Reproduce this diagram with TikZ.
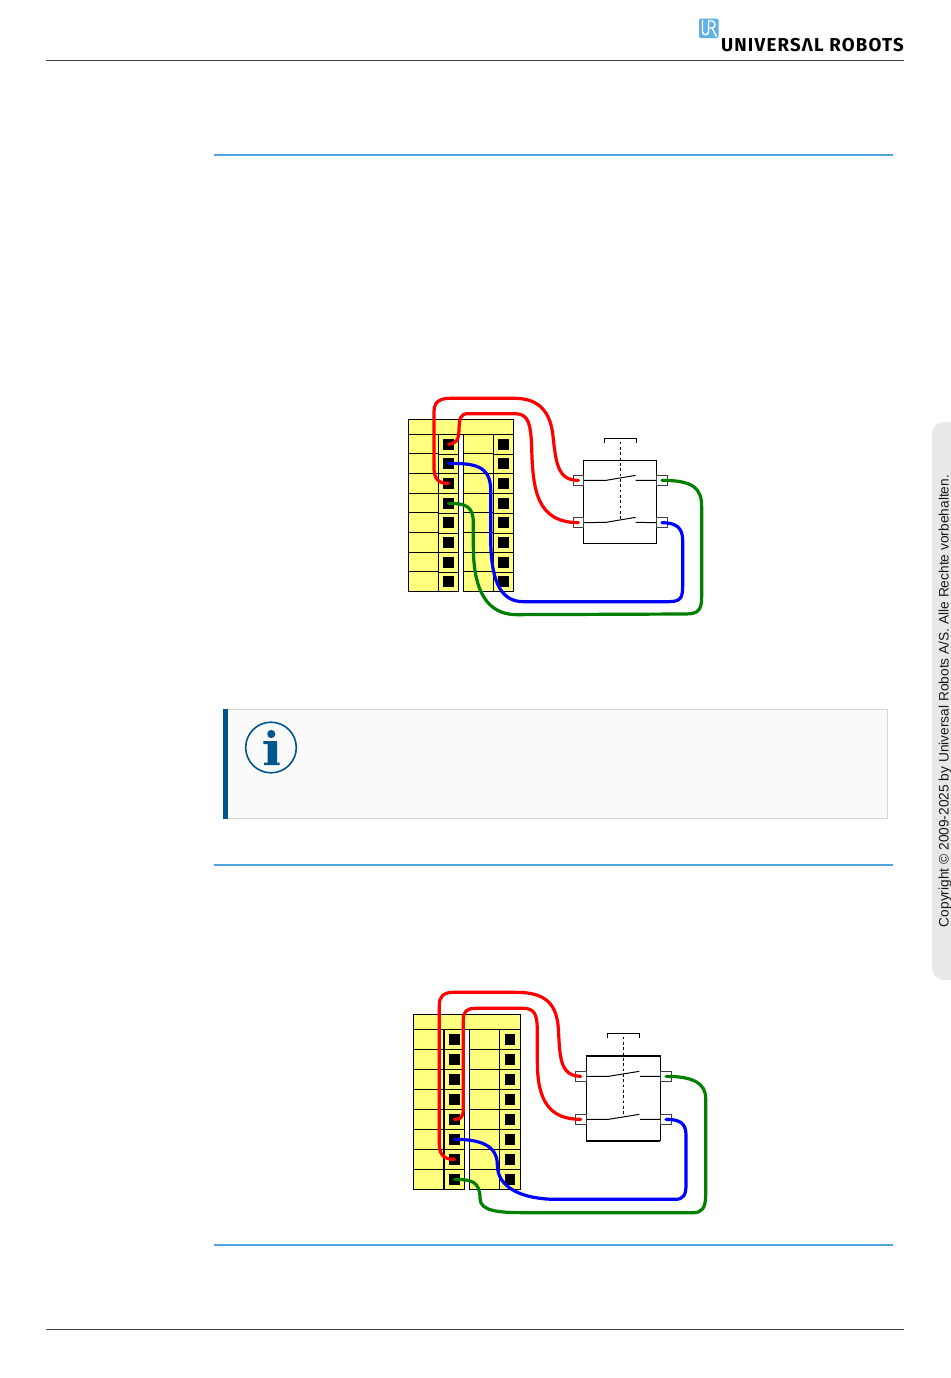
\documentclass[tikz,border=0pt]{standalone}
\usepackage{fontspec}
\setmainfont{Liberation Sans}
\newfontfamily\logofont[LetterSpace=6.5]{Fira Sans}
\definecolor{urblue}{HTML}{4FA6DE}
\definecolor{logoblue}{HTML}{5FB0E6}
\definecolor{navy}{HTML}{00558C}
\definecolor{termyellow}{HTML}{FFFF7F}
\definecolor{wgreen}{HTML}{007F00}
\tikzset{
  hairline/.style={draw=black!75,line width=.6pt},
  sectionrule/.style={draw=urblue,line width=.9pt},
  thin1/.style={draw=black,line width=.75pt},
  termsq/.style={fill=black,draw=none,minimum size=8.2pt,inner sep=0pt,outer sep=0pt},
  tabbox/.style={draw=black!75,line width=.6pt,fill=white,minimum width=8pt,minimum height=7.6pt,inner sep=0pt},
  wirered/.style={draw=red,line width=2.4pt,line cap=round,line join=round},
  wireblue/.style={draw=blue,line width=2.4pt,line cap=round,line join=round},
  wiregreen/.style={draw=wgreen,line width=2.4pt,line cap=round,line join=round},
  yellowblock/.style={fill=termyellow,draw=none},
}
\begin{document}
\begin{tikzpicture}[x=.75pt,y=-.75pt]
\useasboundingbox (0,0) rectangle (950,1378);
\fill[white] (0,0) rectangle (950,1378);
% header / footer
\draw[hairline] (46,60.5) -- (904,60.5);
\draw[hairline] (46,1329.5) -- (904,1329.5);
% logo
\fill[logoblue,rounded corners=1pt] (699,18.5) rectangle (718.5,38);
\draw[white,line width=1.1pt] (702.5,20) -- (702.5,32) .. controls (702.5,35.5) and (708.5,35.5) .. (708.5,32) -- (708.5,20);
\draw[white,line width=1.1pt] (708.5,21) -- (712,21) .. controls (716,21) and (716,28) .. (712,28) -- (709,28) (712,28) -- (716.5,36.5);
\node[anchor=base east,inner sep=0pt,font=\fontsize{14pt}{15pt}\logofont\bfseries] (logotext) at (904,51.7) {UNIVERSΛL ROBOTS};
% section rules
\draw[sectionrule] (214,155) -- (893,155);
\draw[sectionrule] (214,865) -- (893,865);
\draw[sectionrule] (214,1245) -- (893,1245);
% side tab
\fill[black!9,rounded corners=9pt] (932,422) rectangle (960,980);
\node[rotate=90,inner sep=0pt,font=\fontsize{10.3pt}{12pt}\selectfont,text=black!90] (copyright) at (945,701) {Copyright © 2009-2025 by Universal Robots A/S. Alle Rechte vorbehalten.};
% note box
\draw[fill=black!2,draw=black!17,line width=.8pt] (223.5,709.5) rectangle (887.5,818.5);
\fill[navy] (223,709) rectangle (228,819);
\draw[navy,line width=1.2pt] (271,747.5) circle[radius=25.3];
\fill[navy] (271.3,734) circle[radius=4.1];
\fill[navy] (263.3,741) -- (277,741) -- (277,762.5) -- (279.5,762.5) -- (279.5,765) -- (264,765) -- (264,762.5) -- (267.5,762.5) -- (267.5,744) -- (263.3,744) -- cycle;

% ===== first diagram =====
\begin{scope}[shift={(400,390)},x=.25pt,y=-.25pt]
\fill[yellowblock] (25,88) -- (340,88) -- (340,604) -- (190,604) -- (190,133) -- (175,133) -- (175,604) -- (25,604) -- cycle;
\draw[thin1] (175,133) -- (175,604) -- (25,604) -- (25,88) -- (340,88) -- (340,604) -- (190,604) -- (190,133);
\draw[thin1] (25,133) -- (340,133);
\draw[thin1] (115,133) -- (115,604) (280,133) -- (280,604);
\foreach \yy in {190,250,310,367,427,487,545} {
  \draw[thin1] (25,\yy) -- (115,\yy) (190,\yy) -- (280,\yy);
}
\foreach \yy in {193,250,310,370,430,487,547} {
  \draw[thin1] (115,\yy) -- (175,\yy) (280,\yy) -- (340,\yy);
}
\foreach \n/\yy in {1/163,2/220,3/280,4/340,5/397,6/457,7/517,8/575} {
  \node[termsq] (a\n) at (145.5,\yy) {};
  \node[termsq] (b\n) at (310.5,\yy) {};
}
% switch
\node[draw=black,line width=.75pt,fill=white,minimum width=54.75pt,minimum height=62.25pt,inner sep=0pt] (sw1) at (659.5,335.5) {};
\node[tabbox] (tl1a) at (535,271) {};
\node[tabbox] (tl1b) at (535,398) {};
\node[tabbox] (tr1a) at (786,271) {};
\node[tabbox] (tr1b) at (786,398) {};
\draw[thin1] (tl1a.east) -- (618,271) -- (707,256) (707,271) -- (tr1a.west);
\draw[thin1] (tl1b.east) -- (618,397) -- (707,382) (707,397) -- (tr1b.west);
\draw[thin1] (613,160) -- (613,145) -- (709,145) -- (709,160);
\draw[draw=black,line width=.75pt,dash pattern=on 2pt off 2pt] (661,155) -- (661,390);
% wires
\draw[wirered] (a3.center) .. controls (120,281) and (102,270) .. (102,235) -- (102,65) .. controls (102,35) and (120,25) .. (150,25) -- (345,25) .. controls (420,25) and (450,70) .. (458,130) .. controls (468,215) and (470,271) .. (tl1a.center);
\draw[wirered] (a1.center) .. controls (170,160) and (176,150) .. (177,120) .. controls (178,85) and (180,71) .. (205,71) -- (345,71) .. controls (385,71) and (392,100) .. (395,170) .. controls (398,300) and (410,397) .. (tl1b.center);
\draw[wireblue] (a2.center) .. controls (220,220) and (272,225) .. (272,300) -- (272,440) .. controls (272,560) and (295,635) .. (370,635) -- (805,635) .. controls (840,635) and (848,625) .. (848,590) -- (848,450) .. controls (848,415) and (830,398) .. (tr1b.center);
\draw[wiregreen] (a4.center) .. controls (200,340) and (220,350) .. (220,400) -- (220,470) .. controls (220,600) and (260,674) .. (350,674) -- (855,672) .. controls (895,672) and (905,660) .. (905,620) -- (905,350) .. controls (905,295) and (880,271) .. (tr1a.center);
\end{scope}

% ===== second diagram =====
\begin{scope}[shift={(400,985)},x=.25pt,y=-.25pt]
\fill[yellowblock] (40,88) -- (361,88) -- (361,613) -- (208,613) -- (208,133) -- (193,133) -- (193,613) -- (40,613) -- cycle;
\draw[thin1] (193,133) -- (193,613) -- (40,613) -- (40,88) -- (361,88) -- (361,613) -- (208,613) -- (208,133);
\draw[thin1] (40,133) -- (361,133);
\draw[draw=black,line width=1.1pt] (132,133) -- (132,613);
\draw[thin1] (298,133) -- (298,613);
\foreach \yy in {193,253,313,373,433,493,553} {
  \draw[thin1] (40,\yy) -- (193,\yy) (208,\yy) -- (361,\yy);
}
\foreach \n/\yy in {1/163,2/223,3/283,4/343,5/403,6/463,7/523,8/583} {
  \node[termsq] (c\n) at (163.5,\yy) {};
  \node[termsq] (d\n) at (330,\yy) {};
}
\node[draw=black,line width=.75pt,fill=white,minimum width=55.5pt,minimum height=63.75pt,inner sep=0pt] (sw2) at (670,339.5) {};
\draw[draw=black,line width=1.4pt] (559,212) -- (781,212) (559,467) -- (781,467);
\node[tabbox] (tl2a) at (542,274) {};
\node[tabbox] (tl2b) at (542,403) {};
\node[tabbox] (tr2a) at (798,274) {};
\node[tabbox] (tr2b) at (798,403) {};
\draw[thin1] (tl2a.east) -- (625,274) -- (718,259) (720,274) -- (tr2a.west);
\draw[thin1] (tl2b.east) -- (625,403) -- (718,388) (720,403) -- (tr2b.west);
\draw[thin1] (622,160) -- (622,145) -- (718,145) -- (718,160);
\draw[draw=black,line width=.75pt,dash pattern=on 2pt off 2pt] (670,155) -- (670,395);
\draw[wirered] (c7.center) .. controls (135,524) and (118,510) .. (118,480) -- (118,60) .. controls (118,35) and (130,22) .. (160,22) -- (350,22) .. controls (440,22) and (470,60) .. (475,130) .. controls (480,215) and (478,272) .. (tl2a.center);
\draw[wirered] (c5.center) .. controls (180,403) and (190,400) .. (190,370) -- (190,105) .. controls (190,80) and (200,70) .. (225,70) -- (370,70) .. controls (405,70) and (412,90) .. (412,140) -- (412,230) .. controls (412,350) and (450,403) .. (tl2b.center);
\draw[wireblue] (c6.center) .. controls (240,463) and (292,480) .. (292,540) .. controls (292,610) and (370,643) .. (470,643) -- (825,643) .. controls (850,643) and (858,630) .. (858,600) -- (858,450) .. controls (858,415) and (840,403) .. (tr2b.center);
\draw[wiregreen] (c8.center) .. controls (215,583) and (240,590) .. (240,640) .. controls (240,680) and (300,683) .. (380,683) -- (880,683) .. controls (905,683) and (917,670) .. (917,630) -- (917,340) .. controls (917,295) and (880,274) .. (tr2a.center);
\end{scope}
\end{tikzpicture}
\end{document}
